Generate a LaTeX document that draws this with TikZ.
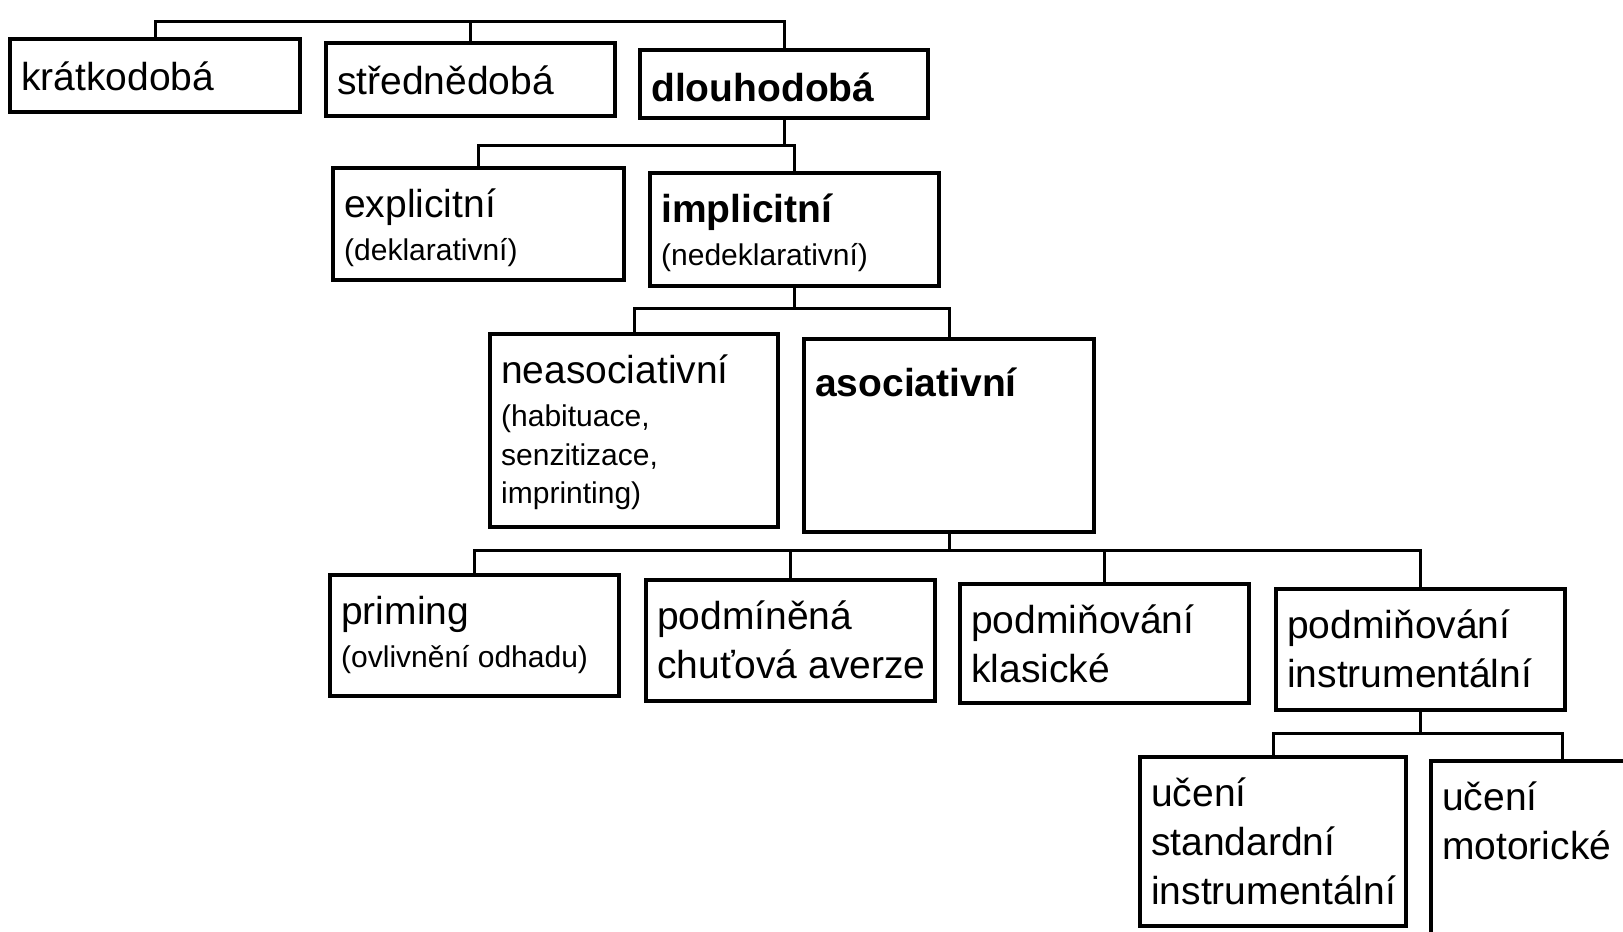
\documentclass[tikz,border=0pt]{standalone}
\usepackage{fontspec}
\setmainfont{Liberation Sans}
\usetikzlibrary{calc}
\def\mainsize{\fontsize{39}{49}\selectfont}
\def\subsize{\fontsize{30}{39}\selectfont}
\def\textdrop{15}
\tikzset{
  memBox/.style={draw, line width=3.2pt, anchor=north west, inner sep=0pt, outer sep=0pt},
  memText/.style={anchor=north west, align=left, inner sep=0pt, font=\mainsize,
    execute at begin node={\rule{0pt}{36pt}}},
  link/.style={line width=3pt},
}
\newcommand{\memorybox}[6]{%
  \node[memBox, minimum width=#4, minimum height=#5] (#1) at (#2,#3) {};
  \node[memText] (#1Text) at ([shift={(11,\textdrop)}]#1.north west) {#6};}

\begin{document}
\begin{tikzpicture}[x=1pt, y=-1pt]
		\useasboundingbox (0,0) rectangle (1623,932);
		\clip (0,0) rectangle (1623,932);
		
		% row 1
		\memorybox{kratkodoba}{10}{39}{290}{73}{krátkodobá}
		\memorybox{strednedoba}{326}{43}{289}{73}{střednědobá}
		\memorybox{dlouhodoba}{640}{50}{288}{68}{{\bfseries dlouhodobá}}
		
		\def\textdrop{21}
		% row 2
		\memorybox{explicitni}{333}{168}{291}{112}{explicitní\\[-6pt]{\subsize (deklarativní)}}
		\memorybox{implicitni}{650}{173}{289}{113}{{\bfseries implicitní}\\[-6pt]{\subsize (nedeklarativní)}}
		
		% row 3
		\memorybox{neasociativni}{490}{334}{288}{193}{neasociativní\\[-6pt]{\subsize (habituace,}\\[-10.5pt]{\subsize senzitizace,}\\[-10.5pt]{\subsize imprinting)}}
		\memorybox{asociativni}{804}{339}{290}{193}{{\bfseries asociativní}}
		
		% row 4
		\memorybox{priming}{330}{575}{289}{121}{priming\\[-6pt]{\subsize (ovlivnění odhadu)}}
		\memorybox{podminena}{646}{580}{289}{121}{podmíněná\\chuťová averze}
		\memorybox{klasicke}{960}{584}{289}{119}{podmiňování\\klasické}
		\memorybox{instrumentalni}{1276}{589}{289}{121}{podmiňování\\instrumentální}
		
		% row 5
		\memorybox{standardni}{1140}{757}{266}{169}{učení\\standardní\\instrumentální}
		\memorybox{motoricke}{1431}{761}{263}{174}{učení\\motorické}
		
		% buses
		\coordinate (busOne) at (0,21);
		\coordinate (busTwo) at (0,145);
		\coordinate (busThree) at (0,308);
		\coordinate (busFour) at (0,550);
		\coordinate (busFive) at (0,733);
		
		\draw[link] (kratkodoba.north) -- (kratkodoba.north |- busOne) -| (dlouhodoba.north);
		\draw[link] (strednedoba.north) -- (strednedoba.north |- busOne);
		
		\draw[link] (dlouhodoba.south) -- (dlouhodoba.south |- busTwo);
		\draw[link] (explicitni.north) -- (explicitni.north |- busTwo) -| (implicitni.north);
		
		\draw[link] (implicitni.south) -- (implicitni.south |- busThree);
		\draw[link] (neasociativni.north) -- (neasociativni.north |- busThree) -| (asociativni.north);
		
		\draw[link] (asociativni.south) -- (asociativni.south |- busFour);
		\draw[link] (priming.north) -- (priming.north |- busFour) -| (instrumentalni.north);
		\draw[link] (podminena.north) -- (podminena.north |- busFour);
		\draw[link] (klasicke.north) -- (klasicke.north |- busFour);
		
		\draw[link] (instrumentalni.south) -- (instrumentalni.south |- busFive);
		\draw[link] (standardni.north) -- (standardni.north |- busFive) -| (motoricke.north);
	\end{tikzpicture}
\end{document}
